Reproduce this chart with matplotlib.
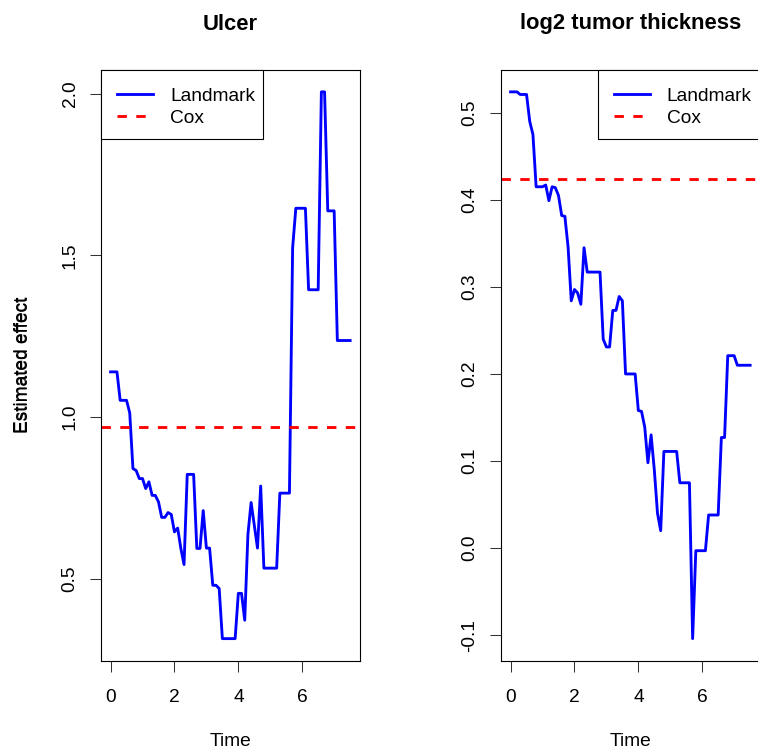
import matplotlib
matplotlib.use("Agg")
import matplotlib.pyplot as plt
from matplotlib.patches import Rectangle
import numpy as np

plt.rcParams["font.family"] = ["Liberation Sans", "DejaVu Sans"]

# Landmark estimates over time, per covariate
ulcer_time = [0.0, 0.2, 0.3, 0.5, 0.6, 0.7, 0.8, 0.9, 1.0, 1.1, 1.2, 1.3, 1.4, 1.5,
              1.6, 1.7, 1.8, 1.9, 2.0, 2.1, 2.2, 2.3, 2.4, 2.6, 2.7, 2.8, 2.9, 3.0,
              3.1, 3.2, 3.3, 3.4, 3.5, 3.9, 4.0, 4.1, 4.2, 4.3, 4.4, 4.6, 4.7, 4.8,
              5.2, 5.3, 5.6, 5.7, 5.8, 6.1, 6.2, 6.5, 6.6, 6.7, 6.8, 7.0, 7.1, 7.5]
ulcer_effect = [1.140, 1.140, 1.052, 1.052, 1.013, 0.841, 0.835, 0.810, 0.810, 0.779,
                0.800, 0.758, 0.758, 0.738, 0.690, 0.690, 0.705, 0.699, 0.645, 0.657,
                0.594, 0.544, 0.823, 0.823, 0.594, 0.594, 0.711, 0.595, 0.595, 0.480,
                0.480, 0.470, 0.315, 0.315, 0.455, 0.455, 0.372, 0.637, 0.736, 0.595,
                0.787, 0.533, 0.533, 0.765, 0.765, 1.524, 1.646, 1.646, 1.394, 1.394,
                2.006, 2.006, 1.638, 1.638, 1.237, 1.237]
ulcer_cox = 0.969

thick_time = [0.0, 0.2, 0.3, 0.5, 0.6, 0.7, 0.8, 1.0, 1.1, 1.2, 1.3, 1.4, 1.5, 1.6,
              1.7, 1.8, 1.9, 2.0, 2.1, 2.2, 2.3, 2.4, 2.8, 2.9, 3.0, 3.1, 3.2, 3.3,
              3.4, 3.5, 3.6, 3.9, 4.0, 4.1, 4.2, 4.3, 4.4, 4.5, 4.6, 4.7, 4.8, 5.2,
              5.3, 5.6, 5.7, 5.8, 6.1, 6.2, 6.5, 6.6, 6.7, 6.8, 7.0, 7.1, 7.5]
thick_effect = [0.524, 0.524, 0.521, 0.521, 0.490, 0.475, 0.415, 0.415, 0.417, 0.399,
                0.415, 0.414, 0.405, 0.382, 0.381, 0.346, 0.284, 0.297, 0.293, 0.280,
                0.345, 0.317, 0.317, 0.240, 0.231, 0.231, 0.273, 0.273, 0.289, 0.284,
                0.200, 0.200, 0.158, 0.157, 0.139, 0.098, 0.130, 0.090, 0.040, 0.020,
                0.111, 0.111, 0.075, 0.075, -0.104, -0.003, -0.003, 0.038, 0.038, 0.127,
                0.127, 0.221, 0.221, 0.210, 0.210]
thick_cox = 0.424

x_ticks = [0, 2, 4, 6]
ulcer_yticks = [0.5, 1.0, 1.5, 2.0]
ulcer_yticklabels = ["0.5", "1.0", "1.5", "2.0"]
thick_yticks = [-0.1, 0.0, 0.1, 0.2, 0.3, 0.4, 0.5]
thick_yticklabels = ["-0.1", "0.0", "0.1", "0.2", "0.3", "0.4", "0.5"]

W, H = 758, 749
fig = plt.figure(figsize=(W / 100, H / 100), dpi=100)

FS = 13.8
LEG_W, LEG_H = 162, 69   # legend box size, pixels


def r_range(vals):
    lo, hi = min(vals), max(vals)
    ext = 0.04 * (hi - lo)
    return lo - ext, hi + ext


def panel(left_px, title, t, eff, cox, yticks, yticklabels, legend_right):
    top_px, bottom_px = 70, 660.5
    width_px = 258.7
    height_px = bottom_px - top_px
    ax = fig.add_axes([left_px / W, (H - bottom_px) / H, width_px / W, height_px / H])
    ax.plot(t, eff, color="#0000FF", lw=2.05, label="Landmark", solid_joinstyle="round")
    ax.axhline(cox, color="#FF0000", lw=2.05, dashes=(3.3, 3.3), label="Cox")
    ax.set_xlim(r_range(t))
    ax.set_ylim(r_range(eff))
    ax.set_xticks(x_ticks)
    ax.set_xticklabels([str(v) for v in x_ticks], fontsize=FS)
    ax.set_yticks(yticks)
    ax.set_yticklabels(yticklabels, fontsize=FS, rotation=90, va="center")
    ax.tick_params(direction="out", length=8.2, width=0.75, color="#333333")
    ax.tick_params(axis="x", pad=12.5)
    ax.tick_params(axis="y", pad=8)
    for s in ax.spines.values():
        s.set_linewidth(0.8)
    ax.set_xlabel("Time", fontsize=FS)
    ax.xaxis.set_label_coords(0.5, -(741 - bottom_px) / height_px)
    ax.xaxis.label.set_va("center")
    ax.set_ylabel("Estimated effect", fontsize=FS)
    ax.yaxis.set_label_coords(-(left_px - 23) / width_px, 0.5)
    ax.yaxis.label.set_va("center")
    ax.set_title(title, fontsize=15.8, fontweight="bold", pad=0,
                 y=1 + (top_px - 24) / height_px, va="center")

    # legend box flush with a top corner of the plot region
    box_x0 = 1 - LEG_W / width_px if legend_right else 0.0
    ax.add_patch(Rectangle((box_x0, 1 - LEG_H / height_px), LEG_W / width_px,
                           LEG_H / height_px, transform=ax.transAxes,
                           facecolor="white", edgecolor="black", lw=0.8,
                           zorder=4.5, clip_on=False))
    ax.legend(loc="upper left", fontsize=FS, frameon=False,
              bbox_to_anchor=(box_x0 + 2 / width_px, 1 - 3 / height_px),
              borderaxespad=0, handlelength=1.85, handletextpad=0.9,
              labelspacing=0.26, borderpad=0.75)
    return ax


panel(101, "Ulcer", ulcer_time, ulcer_effect, ulcer_cox,
      ulcer_yticks, ulcer_yticklabels, False)
panel(501, "log2 tumor thickness", thick_time, thick_effect, thick_cox,
      thick_yticks, thick_yticklabels, True)

fig.savefig("out.png", dpi=100)
